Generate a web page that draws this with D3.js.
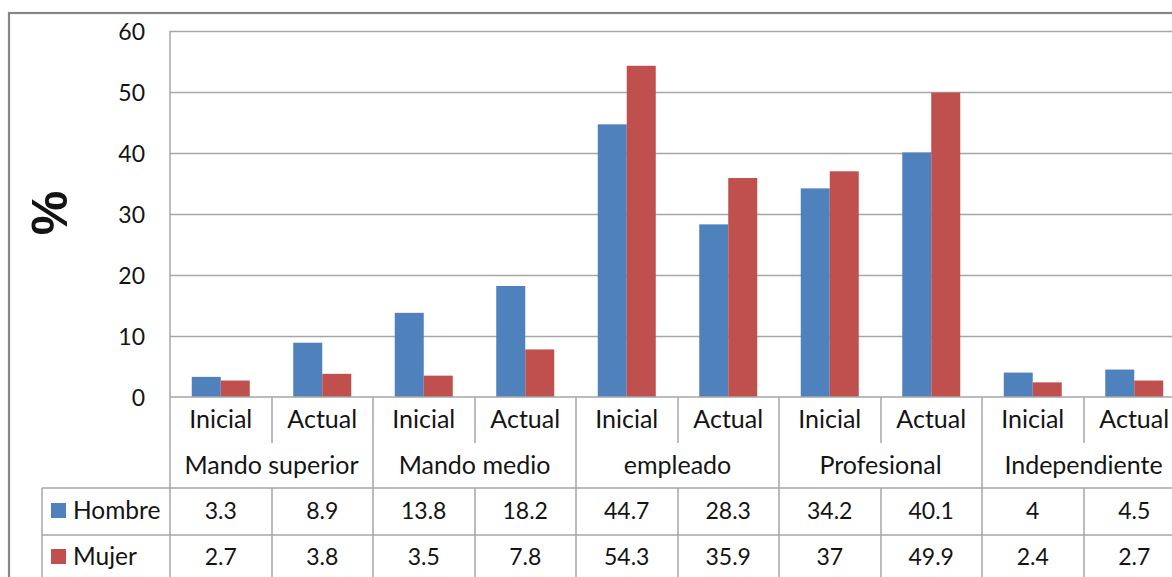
<!DOCTYPE html>
<html>
<head>
<meta charset="utf-8">
<script src="https://cdn.jsdelivr.net/npm/d3@7"></script>
<style>
  html, body { margin: 0; padding: 0; background: #fff; }
  svg { display: block; }
  text { font-family: Lato, "Open Sans", sans-serif; fill: #141414; }
</style>
</head>
<body>
<svg id="chart" width="1172" height="577"></svg>
<script>
// Occupational level at first job vs. current job, by sex (%)
const groups = ["Mando superior", "Mando medio", "empleado", "Profesional", "Independiente"];
const periods = ["Inicial", "Actual"];
const hombre = [3.3, 8.9, 13.8, 18.2, 44.7, 28.3, 34.2, 40.1, 4, 4.5];
const mujer = [2.7, 3.8, 3.5, 7.8, 54.3, 35.9, 37, 49.9, 2.4, 2.7];
const yTicks = [0, 10, 20, 30, 40, 50, 60];
const seriesNames = ["Hombre", "Mujer"];
const seriesColors = ["#4F81BD", "#C0504D"];

const svg = d3.select("#chart");
const W = 1172, H = 577;

const plotLeft = 170, plotTop = 31, plotBottom = 397;
const colW = 101.5;
const nCols = groups.length * periods.length;
const plotRight = plotLeft + colW * nCols;

const cols = d3.range(nCols);
const x = d3.scaleBand().domain(cols).range([plotLeft, plotRight]).padding(0);
const xSub = d3.scaleBand().domain(seriesNames).range([0, x.bandwidth()])
  .paddingInner(0).paddingOuter(0.75);
const y = d3.scaleLinear().domain([0, 60]).range([plotBottom, plotTop]);

const gridColor = "#a6a6a6";
const numSize = 23;
const labelSize = 25;

// outer chart border
svg.append("rect")
  .attr("x", 9).attr("y", 13)
  .attr("width", W + 20).attr("height", H + 20)
  .attr("fill", "none").attr("stroke", "#868686").attr("stroke-width", 2.2);

// horizontal gridlines
svg.append("g").selectAll("line")
  .data(yTicks.filter(d => d > 0))
  .join("line")
  .attr("x1", plotLeft).attr("x2", plotRight)
  .attr("y1", d => Math.round(y(d)) + 0.5).attr("y2", d => Math.round(y(d)) + 0.5)
  .attr("stroke", gridColor).attr("stroke-width", 1.5);

// y tick labels
svg.append("g").selectAll("text")
  .data(yTicks)
  .join("text")
  .attr("x", 145)
  .attr("y", d => y(d) + 9)
  .attr("text-anchor", "end")
  .attr("font-size", numSize)
  .text(d => d);

// y axis title
svg.append("text")
  .attr("transform", "translate(67,213) rotate(-90)")
  .attr("text-anchor", "middle")
  .style("font-family", "'Liberation Sans', Arial, sans-serif")
  .attr("font-weight", "bold")
  .attr("font-size", 50)
  .text("%");

// bars
const series = [hombre, mujer];
const barG = svg.append("g");
seriesNames.forEach((name, si) => {
  barG.append("g").selectAll("rect")
    .data(series[si].map((v, i) => ({ i, v })))
    .join("rect")
    .attr("x", d => x(d.i) + xSub(name))
    .attr("width", xSub.bandwidth())
    .attr("y", d => y(d.v))
    .attr("height", d => y(0) - y(d.v))
    .attr("fill", seriesColors[si]);
});

// data table grid
const rowTick = 443, rowGroup = 488, rowH = 535, rowM = 582;
const tbl = svg.append("g").attr("stroke", gridColor).attr("stroke-width", 1.5).attr("fill", "none");
const hline = (x1, x2, yy) => tbl.append("line").attr("x1", x1).attr("x2", x2).attr("y1", yy).attr("y2", yy);
const vline = (xx, y1, y2) => tbl.append("line").attr("x1", xx).attr("x2", xx).attr("y1", y1).attr("y2", y2);

// axis line and plot left edge
vline(plotLeft, plotTop, H + 10);
hline(plotLeft, plotRight, plotBottom);
hline(42, plotRight, rowGroup);
hline(42, plotRight, rowH);
hline(42, plotRight, rowM);
vline(42, rowGroup, H + 10);

cols.forEach(i => {
  const xr = Math.round(x(i) + x.bandwidth());
  if ((i + 1) % 2 === 0) {
    vline(xr, plotBottom, H + 10);
  } else {
    vline(xr, plotBottom, rowTick);
    vline(xr, rowGroup, H + 10);
  }
});

// period labels
svg.append("g").selectAll("text")
  .data(cols)
  .join("text")
  .attr("x", i => x(i) + x.bandwidth() / 2)
  .attr("y", 428)
  .attr("text-anchor", "middle")
  .attr("font-size", labelSize)
  .text(i => periods[i % 2]);

// group labels
svg.append("g").selectAll("text")
  .data(groups)
  .join("text")
  .attr("x", (d, gi) => x(gi * 2) + x.bandwidth())
  .attr("y", 474)
  .attr("text-anchor", "middle")
  .attr("font-size", labelSize)
  .text(d => d);

// value rows with legend keys
const rowBase = [519, 565];
seriesNames.forEach((name, si) => {
  svg.append("rect")
    .attr("x", 51).attr("y", rowBase[si] - 16)
    .attr("width", 15).attr("height", 15)
    .attr("fill", seriesColors[si]);
  svg.append("text")
    .attr("x", 73).attr("y", rowBase[si])
    .attr("font-size", 24.5)
    .text(name);
  svg.append("g").selectAll("text")
    .data(series[si])
    .join("text")
    .attr("x", (v, i) => x(i) + x.bandwidth() / 2)
    .attr("y", rowBase[si])
    .attr("text-anchor", "middle")
    .attr("font-size", numSize)
    .text(v => v);
});
</script>
</body>
</html>
